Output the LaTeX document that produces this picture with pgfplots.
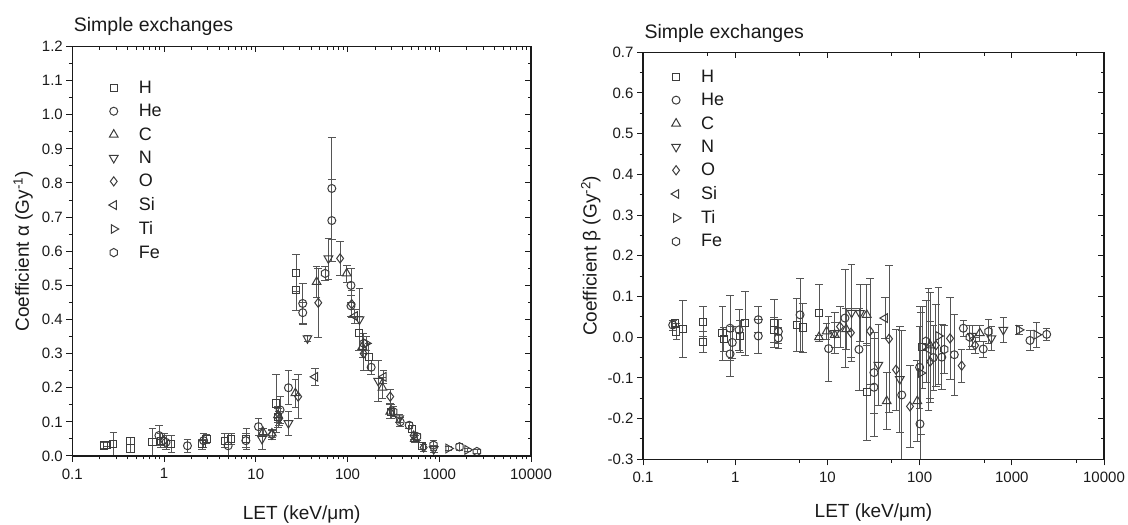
\documentclass[border=0pt]{standalone}
\usepackage{fontspec}
\setmainfont{Liberation Sans}
\usepackage{pgfplots}
\pgfplotsset{compat=1.18}

\definecolor{mk}{HTML}{3C3C3C}
\definecolor{eb}{HTML}{555555}
\definecolor{tx}{HTML}{1A1A1A}

\pgfdeclareplotmark{hexagon}{%
  \pgfpathmoveto{\pgfpointpolar{30}{\pgfplotmarksize}}%
  \pgfpathlineto{\pgfpointpolar{90}{\pgfplotmarksize}}%
  \pgfpathlineto{\pgfpointpolar{150}{\pgfplotmarksize}}%
  \pgfpathlineto{\pgfpointpolar{210}{\pgfplotmarksize}}%
  \pgfpathlineto{\pgfpointpolar{270}{\pgfplotmarksize}}%
  \pgfpathlineto{\pgfpointpolar{330}{\pgfplotmarksize}}%
  \pgfpathclose
  \pgfusepathqstroke
}

\pgfplotsset{
  every axis/.append style={
    scale only axis, xmode=log, xmin=0.1, xmax=10000,
    axis line style={line width=1.2pt, tx},
    every tick/.append style={tx, line width=1.0pt},
    major tick length=6pt, minor tick length=3.5pt,
    xtick={0.1,1,10,100,1000,10000},
    minor y tick num=1,
  },
}

\begin{document}
\begin{tikzpicture}
\useasboundingbox (0,0) rectangle (1128pt,525pt);

% ---------------- left: alpha ----------------
\begin{axis}[
  at={(72.3pt,69pt)}, anchor=south west, width=458.7pt, height=409.5pt,
  xtick pos=left, ytick pos=left, tick align=outside,
  minor xtick={0.2,0.3,0.4,0.5,0.6,0.7,0.8,0.9,2,3,4,5,6,7,8,9,20,30,40,50,60,70,80,90,200,300,400,500,600,700,800,900,2000,3000,4000,5000,6000,7000,8000,9000},
  xticklabels={0.1,1,10,100,1000,10000},
  xticklabel style={yshift=-3pt, font=\fontsize{15}{15}\selectfont, text=tx},
  yticklabel style={font=\fontsize{15}{15}\selectfont, text=tx, /pgf/number format/.cd, fixed, fixed zerofill, precision=1, assume math mode=true},
  ymin=0, ymax=1.2, ytick={0,0.1,...,1.2},
  title={Simple exchanges},
  title style={at={(axis description cs:0.003,1.0215)}, anchor=base west, inner sep=0pt, font=\fontsize{19.5}{19.5}\selectfont, text=tx},
  xlabel={LET (keV/μm)},
  xlabel style={at={(axis description cs:0.5,-0.144)}, anchor=center, font=\fontsize{19}{19}\selectfont, text=tx},
  ylabel={Coefficient α (Gy\textsuperscript{-1})},
  ylabel style={at={(axis description cs:-0.107,0.5)}, anchor=center, font=\fontsize{19}{19}\selectfont, text=tx},
  legend cell align=left,
  legend style={draw=none, fill=none, anchor=north west, at={(axis description cs:0.0725,0.926)},
      font=\fontsize{18}{18}\selectfont, text=tx, row sep=5.4pt, column sep=18pt},
]
\addplot[only marks, color=mk, mark=square, mark size=3.6pt, mark options={solid, draw=mk, fill=none, line width=1pt},
  error bars/.cd, y dir=both, y explicit, error bar style={eb, line width=0.7pt}, error mark options={rotate=90, eb, mark size=3.8pt, line width=0.7pt}]
  table[x=x,y=y,y error=e] {
x y e
0.22 0.031 0.008
0.24 0.033 0.006
0.28 0.035 0.035
0.43 0.045 0.01
0.43 0.022 0.012
0.75 0.04 0.04
0.92 0.045 0.02
1.2 0.035 0.025
2.6 0.035 0.015
2.9 0.05 0.012
4.6 0.045 0.02
5.4 0.05 0.015
7.9 0.05 0.03
16.6 0.154 0.085
17.5 0.115 0.03
27.5 0.537 0.055
27.5 0.486 0.06
133 0.36 0.05
170 0.29 0.04
300 0.13 0.02
500 0.08 0.01
650 0.03 0.01
};
\addlegendentry{H}
\addplot[only marks, color=mk, mark=o, mark size=4pt, mark options={solid, draw=mk, fill=none, line width=1pt},
  error bars/.cd, y dir=both, y explicit, error bar style={eb, line width=0.7pt}, error mark options={rotate=90, eb, mark size=3.8pt, line width=0.7pt}]
  table[x=x,y=y,y error=e] {
x y e
0.88 0.06 0.03
1.05 0.04 0.02
1.8 0.03 0.02
2.7 0.045 0.02
5 0.03 0.035
7.8 0.045 0.02
10.7 0.086 0.025
18.4 0.135 0.04
22.7 0.2 0.05
32.5 0.447 0.06
32.5 0.42 0.03
67.4 0.784 0.15
67.4 0.69 0.12
109 0.5 0.05
109 0.44 0.03
181 0.26 0.02
375 0.1 0.012
470 0.09 0.01
};
\addlegendentry{He}
\addplot[only marks, color=mk, mark=triangle, mark size=5pt, mark options={solid, draw=mk, fill=none, line width=1pt},
  error bars/.cd, y dir=both, y explicit, error bar style={eb, line width=0.7pt}, error mark options={rotate=90, eb, mark size=3.8pt, line width=0.7pt}]
  table[x=x,y=y,y error=e] {
x y e
12 0.07 0.01
15 0.066 0.012
17.5 0.12 0.02
27 0.184 0.04
46 0.51 0.045
98 0.535 0.025
145 0.32 0.03
240 0.2 0.03
292 0.13 0.02
540 0.05 0.01
};
\addlegendentry{C}
\addplot[only marks, color=mk, mark=triangle, mark size=5pt, mark options={solid, draw=mk, fill=none, line width=1pt, rotate=180},
  error bars/.cd, y dir=both, y explicit, error bar style={eb, line width=0.7pt}, error mark options={rotate=90, eb, mark size=3.8pt, line width=0.7pt}]
  table[x=x,y=y,y error=e] {
x y e
11.7 0.05 0.03
22.7 0.096 0.035
36.6 0.345 0.01
61.9 0.579 0.06
135 0.4 0.09
216 0.22 0.06
365 0.11 0.012
870 0.02 0.01
};
\addlegendentry{N}
\addplot[only marks, color=mk, mark=diamond, mark size=4.6pt, mark options={solid, draw=mk, fill=none, line width=1pt},
  error bars/.cd, y dir=both, y explicit, error bar style={eb, line width=0.7pt}, error mark options={rotate=90, eb, mark size=3.8pt, line width=0.7pt}]
  table[x=x,y=y,y error=e] {
x y e
1 0.045 0.02
15 0.062 0.012
18 0.11 0.02
29 0.174 0.065
48 0.449 0.1
83 0.579 0.05
111 0.445 0.04
150 0.3 0.05
292 0.174 0.02
525 0.06 0.01
676 0.025 0.01
};
\addlegendentry{O}
\addplot[only marks, color=mk, mark=triangle, mark size=5pt, mark options={solid, draw=mk, fill=none, line width=1pt, rotate=90},
  error bars/.cd, y dir=both, y explicit, error bar style={eb, line width=0.7pt}, error mark options={rotate=90, eb, mark size=3.8pt, line width=0.7pt}]
  table[x=x,y=y,y error=e] {
x y e
44.4 0.232 0.025
120 0.41 0.02
247 0.232 0.02
};
\addlegendentry{Si}
\addplot[only marks, color=mk, mark=triangle, mark size=5pt, mark options={solid, draw=mk, fill=none, line width=1pt, rotate=-90},
  error bars/.cd, y dir=both, y explicit, error bar style={eb, line width=0.7pt}, error mark options={rotate=90, eb, mark size=3.8pt, line width=0.7pt}]
  table[x=x,y=y,y error=e] {
x y e
160 0.33 0.02
1259 0.022 0.005
2028 0.018 0.005
};
\addlegendentry{Ti}
\addplot[only marks, color=mk, mark=hexagon, mark size=4.2pt, mark options={solid, draw=mk, fill=none, line width=1pt},
  error bars/.cd, y dir=both, y explicit, error bar style={eb, line width=0.7pt}, error mark options={rotate=90, eb, mark size=3.8pt, line width=0.7pt}]
  table[x=x,y=y,y error=e] {
x y e
57 0.535 0.02
150 0.33 0.03
316 0.13 0.015
570 0.057 0.01
865 0.032 0.015
1660 0.027 0.01
2570 0.013 0.006
};
\addlegendentry{Fe}
\end{axis}
\begin{axis}[
  at={(72.3pt,69pt)}, anchor=south west, width=458.7pt, height=409.5pt,
  xtick pos=right, ytick pos=right, tick align=inside,
  xticklabels={}, yticklabels={},
  minor xtick={0.2,0.3,0.4,0.5,0.6,0.7,0.8,0.9,2,3,4,5,6,7,8,9,20,30,40,50,60,70,80,90,200,300,400,500,600,700,800,900,2000,3000,4000,5000,6000,7000,8000,9000},
  ymin=0, ymax=1.2, ytick={0,0.1,...,1.2}]
\end{axis}

% ---------------- right: beta ----------------
\begin{axis}[
  at={(643pt,65.7pt)}, anchor=south west, width=461pt, height=407pt,
  xtick pos=left, ytick pos=left, tick align=outside,
  minor xtick={0.5,5,50,500,5000},
  xticklabels={0.1,1,10,100,1000,10000},
  xticklabel style={yshift=-3pt, font=\fontsize{15}{15}\selectfont, text=tx},
  yticklabel style={font=\fontsize{15}{15}\selectfont, text=tx, /pgf/number format/.cd, fixed, fixed zerofill, precision=1, assume math mode=true},
  ymin=-0.3, ymax=0.7, ytick={-0.3,-0.2,...,0.7},
  title={Simple exchanges},
  title style={at={(axis description cs:0.003,1.0197)}, anchor=base west, inner sep=0pt, font=\fontsize{19.5}{19.5}\selectfont, text=tx},
  xlabel={LET (keV/μm)},
  xlabel style={at={(axis description cs:0.5,-0.132)}, anchor=center, font=\fontsize{19}{19}\selectfont, text=tx},
  ylabel={Coefficient β (Gy\textsuperscript{-2})},
  ylabel style={at={(axis description cs:-0.113,0.5)}, anchor=center, font=\fontsize{19}{19}\selectfont, text=tx},
  legend cell align=left,
  legend style={draw=none, fill=none, anchor=north west, at={(axis description cs:0.054,0.967)},
      font=\fontsize{18}{18}\selectfont, text=tx, row sep=5.4pt, column sep=18pt},
]
\addplot[only marks, color=mk, mark=square, mark size=3.6pt, mark options={solid, draw=mk, fill=none, line width=1pt},
  error bars/.cd, y dir=both, y explicit, error bar style={eb, line width=0.7pt}, error mark options={rotate=90, eb, mark size=3.8pt, line width=0.7pt}]
  table[x=x,y=y,y error=e] {
x y e
0.222 0.034 0.01
0.23 0.014 0.02
0.27 0.02 0.07
0.45 0.038 0.037
0.45 -0.011 0.025
0.73 0.01 0.067
0.75 -0.005 0.03
1.13 0.002 0.04
1.28 0.034 0.078
2.64 0.034 0.06
2.64 0.018 0.03
4.64 0.03 0.065
5.4 0.024 0.06
8.1 0.059 0.07
26.7 -0.134 0.12
107 -0.025 0.1
};
\addlegendentry{H}
\addplot[only marks, color=mk, mark=o, mark size=4pt, mark options={solid, draw=mk, fill=none, line width=1pt},
  error bars/.cd, y dir=both, y explicit, error bar style={eb, line width=0.7pt}, error mark options={rotate=90, eb, mark size=3.8pt, line width=0.7pt}]
  table[x=x,y=y,y error=e] {
x y e
0.21 0.03 0.012
0.88 0.022 0.08
0.88 -0.041 0.056
0.93 -0.013 0.04
1.1 0.018 0.05
1.78 0.043 0.032
1.78 0.003 0.042
2.94 0.014 0.03
2.94 -0.002 0.025
5.05 0.055 0.09
10.3 -0.028 0.08
15.5 0.047 0.12
22 -0.03 0.1
32 -0.087 0.1
32 -0.123 0.12
64 -0.142 0.16
101 -0.213 0.29
100 -0.074 0.1
141 -0.05 0.08
174 -0.049 0.08
238 -0.043 0.1
298 0.022 0.02
490 -0.029 0.02
1574 -0.008 0.025
2390 0.007 0.015
};
\addlegendentry{He}
\addplot[only marks, color=mk, mark=triangle, mark size=5pt, mark options={solid, draw=mk, fill=none, line width=1pt},
  error bars/.cd, y dir=both, y explicit, error bar style={eb, line width=0.7pt}, error mark options={rotate=90, eb, mark size=3.8pt, line width=0.7pt}]
  table[x=x,y=y,y error=e] {
x y e
8.1 0.0 0.005
9.8 0.014 0.02
12 0.006 0.03
16 0.02 0.05
26.7 0.055 0.075
44 -0.157 0.07
94.4 -0.157 0.1
130 -0.02 0.13
450 0.01 0.02
};
\addlegendentry{C}
\addplot[only marks, color=mk, mark=triangle, mark size=5pt, mark options={solid, draw=mk, fill=none, line width=1pt, rotate=180},
  error bars/.cd, y dir=both, y explicit, error bar style={eb, line width=0.7pt}, error mark options={rotate=90, eb, mark size=3.8pt, line width=0.7pt}]
  table[x=x,y=y,y error=e] {
x y e
12 0.01 0.05
18.3 0.06 0.12
22.5 0.059 0.07
35.7 -0.068 0.1
61 -0.103 0.13
370 0.003 0.025
600 -0.003 0.03
809 0.018 0.03
};
\addlegendentry{N}
\addplot[only marks, color=mk, mark=diamond, mark size=4.6pt, mark options={solid, draw=mk, fill=none, line width=1pt},
  error bars/.cd, y dir=both, y explicit, error bar style={eb, line width=0.7pt}, error mark options={rotate=90, eb, mark size=3.8pt, line width=0.7pt}]
  table[x=x,y=y,y error=e] {
x y e
13.7 0.026 0.05
18 0.011 0.06
29 0.015 0.13
46.6 -0.004 0.18
55.5 -0.08 0.1
78.7 -0.17 0.1
130 -0.06 0.1
150 -0.02 0.1
214 -0.003 0.1
286 -0.07 0.04
400 -0.02 0.02
};
\addlegendentry{O}
\addplot[only marks, color=mk, mark=triangle, mark size=5pt, mark options={solid, draw=mk, fill=none, line width=1pt, rotate=90},
  error bars/.cd, y dir=both, y explicit, error bar style={eb, line width=0.7pt}, error mark options={rotate=90, eb, mark size=3.8pt, line width=0.7pt}]
  table[x=x,y=y,y error=e] {
x y e
42 0.047 0.05
125 -0.03 0.15
};
\addlegendentry{Si}
\addplot[only marks, color=mk, mark=triangle, mark size=5pt, mark options={solid, draw=mk, fill=none, line width=1pt, rotate=-90},
  error bars/.cd, y dir=both, y explicit, error bar style={eb, line width=0.7pt}, error mark options={rotate=90, eb, mark size=3.8pt, line width=0.7pt}]
  table[x=x,y=y,y error=e] {
x y e
103 -0.088 0.15
160 0.003 0.12
1197 0.018 0.01
1860 0.006 0.03
};
\addlegendentry{Ti}
\addplot[only marks, color=mk, mark=hexagon, mark size=4.2pt, mark options={solid, draw=mk, fill=none, line width=1pt},
  error bars/.cd, y dir=both, y explicit, error bar style={eb, line width=0.7pt}, error mark options={rotate=90, eb, mark size=3.8pt, line width=0.7pt}]
  table[x=x,y=y,y error=e] {
x y e
117 -0.01 0.1
185 -0.03 0.06
350 0.0 0.03
560 0.014 0.03
};
\addlegendentry{Fe}
\end{axis}
\begin{axis}[
  at={(643pt,65.7pt)}, anchor=south west, width=461pt, height=407pt,
  xtick pos=right, ytick pos=right, tick align=inside,
  xticklabels={}, yticklabels={},
  minor xtick={0.5,5,50,500,5000},
  ymin=-0.3, ymax=0.7, ytick={-0.3,-0.2,...,0.7}]
\end{axis}
\end{tikzpicture}
\end{document}
